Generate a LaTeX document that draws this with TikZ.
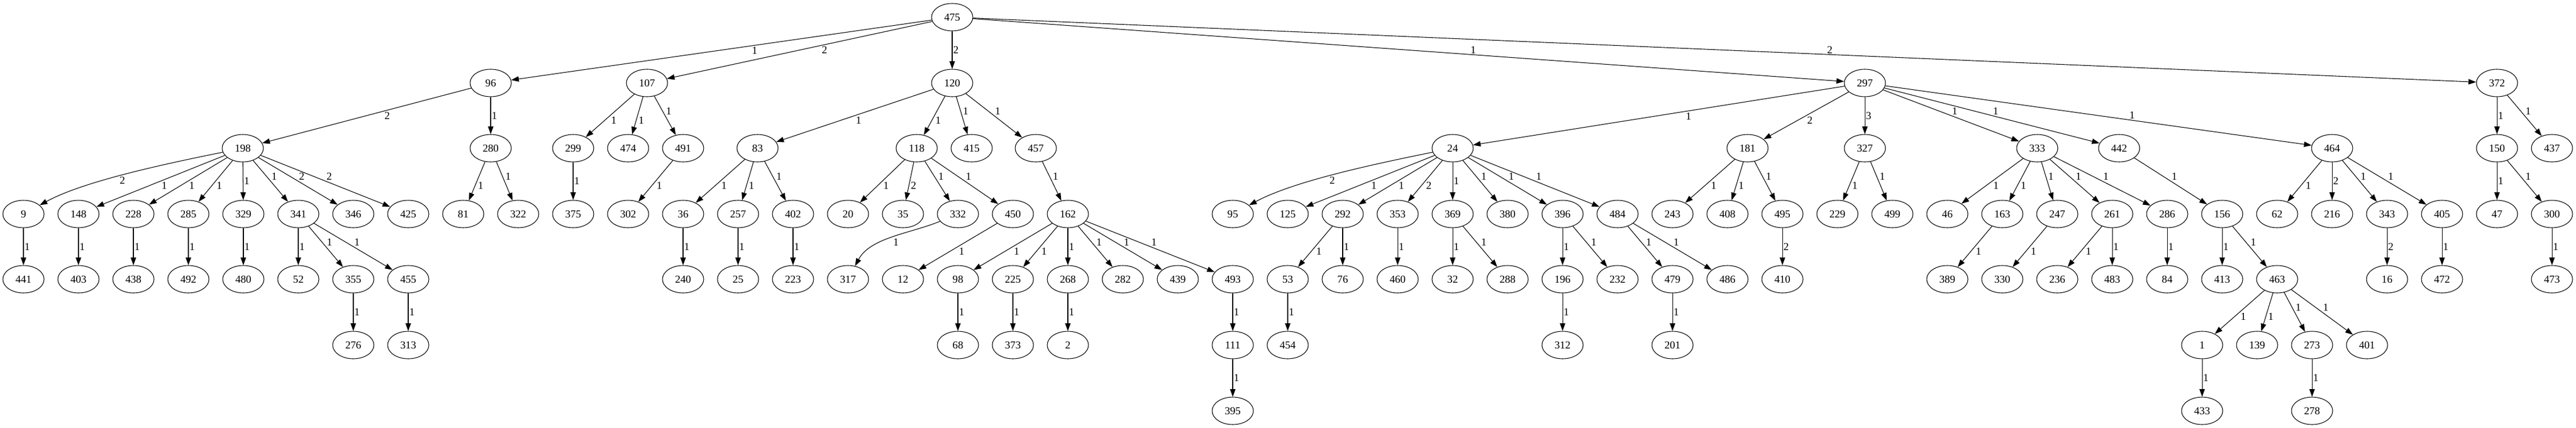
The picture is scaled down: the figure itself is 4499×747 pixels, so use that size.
\documentclass[tikz,border=0pt]{standalone}
\usepackage{fontspec}
\setmainfont{Liberation Serif}
\usetikzlibrary{arrows.meta}
\usetikzlibrary{shapes.geometric}

\begin{document}
\begin{tikzpicture}[x=0.75pt, y=-0.75pt, line width=0.8pt,
    >={Triangle[length=10pt,width=7pt]},
    font=\fontsize{14pt}{16pt}\selectfont,
    vtx/.style={ellipse, draw, minimum width=54pt, minimum height=36pt, inner sep=0pt},
    wgt/.style={midway, auto, inner sep=1pt}]
    \useasboundingbox (0, 0) rectangle (4499, 747);

    \path (1663, 30) node [vtx] (n475) {475};
    \path (857, 145) node [vtx] (n96) {96};
    \path (1130, 145) node [vtx] (n107) {107};
    \path (1663, 145) node [vtx] (n120) {120};
    \path (3257, 145) node [vtx] (n297) {297};
    \path (4361, 145) node [vtx] (n372) {372};
    \draw [->] (n475) -- (n96) node[wgt, pos=0.43] {1};
    \draw [->] (n475) -- (n107) node[wgt, pos=0.42] {2};
    \draw [->] (n475) -- (n120) node[wgt] {2};
    \draw [->] (n475) -- (n297) node[wgt, pos=0.57] {1};
    \draw [->] (n475) -- (n372) node[wgt, pos=0.57] {2};

    % 96
    \path (424, 259) node [vtx] (n198) {198};
    \draw [->] (n96) -- (n198) node[wgt, pos=0.42] {2};
    \path (857, 259) node [vtx] (n280) {280};
    \draw [->] (n96) -- (n280) node[wgt] {1};
    \path (41, 374) node [vtx] (n9) {9};
    \draw [->] (n198) .. controls (260, 292) and (140, 320) .. (n9) node[wgt] {2};
    \path (137, 374) node [vtx] (n148) {148};
    \draw [->] (n198) -- (n148) node[wgt] {1};
    \path (233, 374) node [vtx] (n228) {228};
    \draw [->] (n198) -- (n228) node[wgt] {1};
    \path (329, 374) node [vtx] (n285) {285};
    \draw [->] (n198) -- (n285) node[wgt] {1};
    \path (425, 374) node [vtx] (n329) {329};
    \draw [->] (n198) -- (n329) node[wgt] {1};
    \path (521, 374) node [vtx] (n341) {341};
    \draw [->] (n198) -- (n341) node[wgt] {1};
    \path (617, 374) node [vtx] (n346) {346};
    \draw [->] (n198) -- (n346) node[wgt] {2};
    \path (713, 374) node [vtx] (n425) {425};
    \draw [->] (n198) -- (n425) node[wgt] {2};
    \path (41, 488) node [vtx] (n441) {441};
    \draw [->] (n9) -- (n441) node[wgt] {1};
    \path (137, 488) node [vtx] (n403) {403};
    \draw [->] (n148) -- (n403) node[wgt] {1};
    \path (233, 488) node [vtx] (n438) {438};
    \draw [->] (n228) -- (n438) node[wgt] {1};
    \path (329, 488) node [vtx] (n492) {492};
    \draw [->] (n285) -- (n492) node[wgt] {1};
    \path (425, 488) node [vtx] (n480) {480};
    \draw [->] (n329) -- (n480) node[wgt] {1};
    \path (521, 488) node [vtx] (n52) {52};
    \draw [->] (n341) -- (n52) node[wgt] {1};
    \path (617, 488) node [vtx] (n355) {355};
    \draw [->] (n341) -- (n355) node[wgt] {1};
    \path (713, 488) node [vtx] (n455) {455};
    \draw [->] (n341) -- (n455) node[wgt] {1};
    \path (617, 603) node [vtx] (n276) {276};
    \draw [->] (n355) -- (n276) node[wgt] {1};
    \path (713, 603) node [vtx] (n313) {313};
    \draw [->] (n455) -- (n313) node[wgt] {1};
    \path (809, 374) node [vtx] (n81) {81};
    \draw [->] (n280) -- (n81) node[wgt] {1};
    \path (905, 374) node [vtx] (n322) {322};
    \draw [->] (n280) -- (n322) node[wgt] {1};

    % 107
    \path (1001, 259) node [vtx] (n299) {299};
    \draw [->] (n107) -- (n299) node[wgt] {1};
    \path (1097, 259) node [vtx] (n474) {474};
    \draw [->] (n107) -- (n474) node[wgt] {1};
    \path (1193, 259) node [vtx] (n491) {491};
    \draw [->] (n107) -- (n491) node[wgt] {1};
    \path (1001, 374) node [vtx] (n375) {375};
    \draw [->] (n299) -- (n375) node[wgt] {1};
    \path (1097, 374) node [vtx] (n302) {302};
    \draw [->] (n491) -- (n302) node[wgt] {1};

    % 120
    \path (1323, 259) node [vtx] (n83) {83};
    \draw [->] (n120) -- (n83) node[wgt] {1};
    \path (1601, 259) node [vtx] (n118) {118};
    \draw [->] (n120) -- (n118) node[wgt] {1};
    \path (1697, 259) node [vtx] (n415) {415};
    \draw [->] (n120) -- (n415) node[wgt] {1};
    \path (1809, 259) node [vtx] (n457) {457};
    \draw [->] (n120) -- (n457) node[wgt] {1};
    \path (1193, 374) node [vtx] (n36) {36};
    \draw [->] (n83) -- (n36) node[wgt] {1};
    \path (1289, 374) node [vtx] (n257) {257};
    \draw [->] (n83) -- (n257) node[wgt] {1};
    \path (1385, 374) node [vtx] (n402) {402};
    \draw [->] (n83) -- (n402) node[wgt] {1};
    \path (1193, 488) node [vtx] (n240) {240};
    \draw [->] (n36) -- (n240) node[wgt] {1};
    \path (1289, 488) node [vtx] (n25) {25};
    \draw [->] (n257) -- (n25) node[wgt] {1};
    \path (1385, 488) node [vtx] (n223) {223};
    \draw [->] (n402) -- (n223) node[wgt] {1};
    \path (1481, 374) node [vtx] (n20) {20};
    \draw [->] (n118) -- (n20) node[wgt] {1};
    \path (1577, 374) node [vtx] (n35) {35};
    \draw [->] (n118) -- (n35) node[wgt] {2};
    \path (1673, 374) node [vtx] (n332) {332};
    \draw [->] (n118) -- (n332) node[wgt] {1};
    \path (1769, 374) node [vtx] (n450) {450};
    \draw [->] (n118) -- (n450) node[wgt] {1};
    \path (1481, 488) node [vtx] (n317) {317};
    \draw [->] (n332) .. controls (1590, 408) and (1520, 415) .. (n317) node[wgt] {1};
    \path (1577, 488) node [vtx] (n12) {12};
    \draw [->] (n450) -- (n12) node[wgt] {1};
    \path (1865, 374) node [vtx] (n162) {162};
    \draw [->] (n457) -- (n162) node[wgt] {1};
    \path (1673, 488) node [vtx] (n98) {98};
    \draw [->] (n162) -- (n98) node[wgt] {1};
    \path (1769, 488) node [vtx] (n225) {225};
    \draw [->] (n162) -- (n225) node[wgt] {1};
    \path (1865, 488) node [vtx] (n268) {268};
    \draw [->] (n162) -- (n268) node[wgt] {1};
    \path (1961, 488) node [vtx] (n282) {282};
    \draw [->] (n162) -- (n282) node[wgt] {1};
    \path (2057, 488) node [vtx] (n439) {439};
    \draw [->] (n162) -- (n439) node[wgt] {1};
    \path (2153, 488) node [vtx] (n493) {493};
    \draw [->] (n162) -- (n493) node[wgt] {1};
    \path (1673, 603) node [vtx] (n68) {68};
    \draw [->] (n98) -- (n68) node[wgt] {1};
    \path (1769, 603) node [vtx] (n373) {373};
    \draw [->] (n225) -- (n373) node[wgt] {1};
    \path (1865, 603) node [vtx] (n2) {2};
    \draw [->] (n268) -- (n2) node[wgt] {1};
    \path (2153, 603) node [vtx] (n111) {111};
    \draw [->] (n493) -- (n111) node[wgt] {1};
    \path (2153, 718) node [vtx] (n395) {395};
    \draw [->] (n111) -- (n395) node[wgt] {1};

    % 297
    \path (2537, 259) node [vtx] (n24) {24};
    \draw [->] (n297) -- (n24) node[wgt, pos=0.43] {1};
    \path (3052, 259) node [vtx] (n181) {181};
    \draw [->] (n297) -- (n181) node[wgt] {2};
    \path (3257, 259) node [vtx] (n327) {327};
    \draw [->] (n297) -- (n327) node[wgt] {3};
    \path (3558, 259) node [vtx] (n333) {333};
    \draw [->] (n297) -- (n333) node[wgt] {1};
    \path (3701, 259) node [vtx] (n442) {442};
    \draw [->] (n297) -- (n442) node[wgt] {1};
    \path (4073, 259) node [vtx] (n464) {464};
    \draw [->] (n297) -- (n464) node[wgt, pos=0.57] {1};
    \path (2153, 374) node [vtx] (n95) {95};
    \draw [->] (n24) .. controls (2373, 292) and (2253, 320) .. (n95) node[wgt] {2};
    \path (2249, 374) node [vtx] (n125) {125};
    \draw [->] (n24) -- (n125) node[wgt] {1};
    \path (2345, 374) node [vtx] (n292) {292};
    \draw [->] (n24) -- (n292) node[wgt] {1};
    \path (2441, 374) node [vtx] (n353) {353};
    \draw [->] (n24) -- (n353) node[wgt] {2};
    \path (2537, 374) node [vtx] (n369) {369};
    \draw [->] (n24) -- (n369) node[wgt] {1};
    \path (2633, 374) node [vtx] (n380) {380};
    \draw [->] (n24) -- (n380) node[wgt] {1};
    \path (2729, 374) node [vtx] (n396) {396};
    \draw [->] (n24) -- (n396) node[wgt] {1};
    \path (2825, 374) node [vtx] (n484) {484};
    \draw [->] (n24) -- (n484) node[wgt] {1};
    \path (2249, 488) node [vtx] (n53) {53};
    \draw [->] (n292) -- (n53) node[wgt] {1};
    \path (2345, 488) node [vtx] (n76) {76};
    \draw [->] (n292) -- (n76) node[wgt] {1};
    \path (2249, 603) node [vtx] (n454) {454};
    \draw [->] (n53) -- (n454) node[wgt] {1};
    \path (2441, 488) node [vtx] (n460) {460};
    \draw [->] (n353) -- (n460) node[wgt] {1};
    \path (2537, 488) node [vtx] (n32) {32};
    \draw [->] (n369) -- (n32) node[wgt] {1};
    \path (2633, 488) node [vtx] (n288) {288};
    \draw [->] (n369) -- (n288) node[wgt] {1};
    \path (2729, 488) node [vtx] (n196) {196};
    \draw [->] (n396) -- (n196) node[wgt] {1};
    \path (2825, 488) node [vtx] (n232) {232};
    \draw [->] (n396) -- (n232) node[wgt] {1};
    \path (2729, 603) node [vtx] (n312) {312};
    \draw [->] (n196) -- (n312) node[wgt] {1};
    \path (2921, 488) node [vtx] (n479) {479};
    \draw [->] (n484) -- (n479) node[wgt] {1};
    \path (3017, 488) node [vtx] (n486) {486};
    \draw [->] (n484) -- (n486) node[wgt] {1};
    \path (2921, 603) node [vtx] (n201) {201};
    \draw [->] (n479) -- (n201) node[wgt] {1};
    \path (2921, 374) node [vtx] (n243) {243};
    \draw [->] (n181) -- (n243) node[wgt] {1};
    \path (3017, 374) node [vtx] (n408) {408};
    \draw [->] (n181) -- (n408) node[wgt] {1};
    \path (3113, 374) node [vtx] (n495) {495};
    \draw [->] (n181) -- (n495) node[wgt] {1};
    \path (3113, 488) node [vtx] (n410) {410};
    \draw [->] (n495) -- (n410) node[wgt] {2};
    \path (3209, 374) node [vtx] (n229) {229};
    \draw [->] (n327) -- (n229) node[wgt] {1};
    \path (3305, 374) node [vtx] (n499) {499};
    \draw [->] (n327) -- (n499) node[wgt] {1};
    \path (3401, 374) node [vtx] (n46) {46};
    \draw [->] (n333) -- (n46) node[wgt] {1};
    \path (3497, 374) node [vtx] (n163) {163};
    \draw [->] (n333) -- (n163) node[wgt] {1};
    \path (3593, 374) node [vtx] (n247) {247};
    \draw [->] (n333) -- (n247) node[wgt] {1};
    \path (3689, 374) node [vtx] (n261) {261};
    \draw [->] (n333) -- (n261) node[wgt] {1};
    \path (3785, 374) node [vtx] (n286) {286};
    \draw [->] (n333) -- (n286) node[wgt] {1};
    \path (3401, 488) node [vtx] (n389) {389};
    \draw [->] (n163) -- (n389) node[wgt] {1};
    \path (3497, 488) node [vtx] (n330) {330};
    \draw [->] (n247) -- (n330) node[wgt] {1};
    \path (3593, 488) node [vtx] (n236) {236};
    \draw [->] (n261) -- (n236) node[wgt] {1};
    \path (3689, 488) node [vtx] (n483) {483};
    \draw [->] (n261) -- (n483) node[wgt] {1};
    \path (3785, 488) node [vtx] (n84) {84};
    \draw [->] (n286) -- (n84) node[wgt] {1};
    \path (3881, 374) node [vtx] (n156) {156};
    \draw [->] (n442) -- (n156) node[wgt] {1};
    \path (3881, 488) node [vtx] (n413) {413};
    \draw [->] (n156) -- (n413) node[wgt] {1};
    \path (3977, 488) node [vtx] (n463) {463};
    \draw [->] (n156) -- (n463) node[wgt] {1};
    \path (3846, 603) node [vtx] (n1) {1};
    \draw [->] (n463) -- (n1) node[wgt] {1};
    \path (3942, 603) node [vtx] (n139) {139};
    \draw [->] (n463) -- (n139) node[wgt] {1};
    \path (4038, 603) node [vtx] (n273) {273};
    \draw [->] (n463) -- (n273) node[wgt] {1};
    \path (4134, 603) node [vtx] (n401) {401};
    \draw [->] (n463) -- (n401) node[wgt] {1};
    \path (3846, 718) node [vtx] (n433) {433};
    \draw [->] (n1) -- (n433) node[wgt] {1};
    \path (4038, 718) node [vtx] (n278) {278};
    \draw [->] (n273) -- (n278) node[wgt] {1};
    \path (3977, 374) node [vtx] (n62) {62};
    \draw [->] (n464) -- (n62) node[wgt] {1};
    \path (4073, 374) node [vtx] (n216) {216};
    \draw [->] (n464) -- (n216) node[wgt] {2};
    \path (4169, 374) node [vtx] (n343) {343};
    \draw [->] (n464) -- (n343) node[wgt] {1};
    \path (4265, 374) node [vtx] (n405) {405};
    \draw [->] (n464) -- (n405) node[wgt] {1};
    \path (4169, 488) node [vtx] (n16) {16};
    \draw [->] (n343) -- (n16) node[wgt] {2};
    \path (4265, 488) node [vtx] (n472) {472};
    \draw [->] (n405) -- (n472) node[wgt] {1};

    % 372
    \path (4361, 259) node [vtx] (n150) {150};
    \draw [->] (n372) -- (n150) node[wgt] {1};
    \path (4457, 259) node [vtx] (n437) {437};
    \draw [->] (n372) -- (n437) node[wgt] {1};
    \path (4361, 374) node [vtx] (n47) {47};
    \draw [->] (n150) -- (n47) node[wgt] {1};
    \path (4457, 374) node [vtx] (n300) {300};
    \draw [->] (n150) -- (n300) node[wgt] {1};
    \path (4457, 488) node [vtx] (n473) {473};
    \draw [->] (n300) -- (n473) node[wgt] {1};
\end{tikzpicture}
\end{document}
